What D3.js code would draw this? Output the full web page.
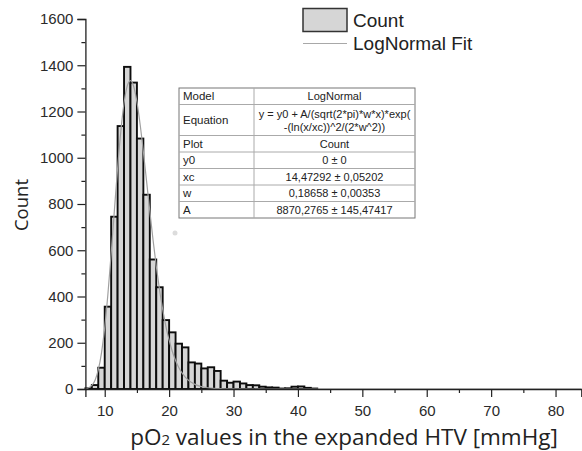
<!DOCTYPE html>
<html>
<head>
<meta charset="utf-8">
<script src="https://cdn.jsdelivr.net/npm/d3@7"></script>
<style>
  html, body { margin: 0; padding: 0; background: #fff; }
  svg { display: block; }
</style>
</head>
<body>
<svg id="chart" width="582" height="451"></svg>
<script>
// ---- data ----
const binLeft = [7,8,9,10,11,12,13,14,15,16,17,18,19,20,21,22,23,24,25,26,27,28,29,30,31,32,33,34,35,36,37,38,39,40,41,42];
const counts  = [3,17,92,356,745,1137,1393,1325,1083,840,560,440,298,245,196,180,115,110,89,94,78,36,27,32,24,17,16,10,7,6,2,3,10,11,5,2];
const binWidth = 1;

// LogNormal fit curve, sampled
const fitX = [7,7.5,8,8.5,9,9.5,10,10.5,11,11.5,12,12.5,13,13.5,14,14.5,15,15.5,16,16.5,17,17.5,18,18.5,19,19.5,20,20.5,21,21.5,22,22.5,23,23.5,24,25,26,27,28,30,35,40,50,60,70,80,84];
const fitY = [1.4,5.1,15.2,38.2,82.4,156.6,266.3,411.6,584.7,771.8,954.5,1114.6,1236.4,1310.5,1333.4,1307.9,1241.4,1143.7,1025.9,898.1,769.1,645.6,532.1,431.4,344.5,271.3,211.0,162.3,123.4,93.0,69.5,51.4,37.8,27.6,20.0,10.4,5.3,2.6,1.3,0.3,0,0,0,0,0,0,0];

const xTicks = [10,20,30,40,50,60,70,80];
const xMinor = [15,25,35,45,55,65,75];
const yTicks = [0,200,400,600,800,1000,1200,1400,1600];
const yMinor = [100,300,500,700,900,1100,1300,1500];

const tableRows = [
  ["Model", "LogNormal"],
  ["Equation", "y = y0 + A/(sqrt(2*pi)*w*x)*exp(\n-(ln(x/xc))^2/(2*w^2))"],
  ["Plot", "Count"],
  ["y0", "0 \u00b1 0"],
  ["xc", "14,47292 \u00b1 0,05202"],
  ["w", "0,18658 \u00b1 0,00353"],
  ["A", "8870,2765 \u00b1 145,47417"]
];
const legendItems = ["Count", "LogNormal Fit"];

// ---- layout ----
const svg = d3.select("#chart");
const x = d3.scaleLinear().domain([7, 84]).range([85.4, 581.3]);
const y = d3.scaleLinear().domain([0, 1600]).range([389, 19]);
const tickFont = "'Liberation Sans', Arial, sans-serif";

// bars
svg.append("g").selectAll("rect").data(binLeft).join("rect")
  .attr("x", d => x(d))
  .attr("y", (d, i) => y(counts[i]))
  .attr("width", d => x(d + binWidth) - x(d))
  .attr("height", (d, i) => y(0) - y(counts[i]))
  .attr("fill", "#d6d6d6")
  .attr("stroke", "#0d0d0d")
  .attr("stroke-width", 1.9);

// fit curve
const line = d3.line().x((d, i) => x(d)).y((d, i) => y(fitY[i])).curve(d3.curveMonotoneX);
svg.append("path").datum(fitX)
  .attr("d", line)
  .attr("fill", "none")
  .attr("stroke", "#a0a0a0")
  .attr("stroke-width", 1.2);

// axes
const yAxis = svg.append("g").attr("transform", `translate(${x(7)},0)`)
  .call(d3.axisLeft(y).tickValues(yTicks).tickSize(8).tickPadding(4).tickFormat(d3.format("d")));
const yAxisMinor = svg.append("g").attr("transform", `translate(${x(7)},0)`)
  .call(d3.axisLeft(y).tickValues(yMinor).tickSize(4).tickFormat(""));
const xAxis = svg.append("g").attr("transform", `translate(0,${y(0)})`)
  .call(d3.axisBottom(x).tickValues(xTicks).tickSize(8).tickPadding(8));
const xAxisMinor = svg.append("g").attr("transform", `translate(0,${y(0)})`)
  .call(d3.axisBottom(x).tickValues(xMinor).tickSize(4).tickFormat(""));

[yAxis, yAxisMinor, xAxis, xAxisMinor].forEach(g => {
  g.select(".domain").attr("stroke", "#222").attr("stroke-width", 1.3);
  g.selectAll(".tick line").attr("stroke", "#222").attr("stroke-width", 1.2);
  g.selectAll("text").attr("font-family", tickFont).attr("font-size", 15).attr("fill", "#2a2a2a");
});
yAxisMinor.select(".domain").remove();
xAxisMinor.select(".domain").remove();

// axis titles
svg.append("text")
  .attr("transform", "translate(28,205) rotate(-90)")
  .attr("text-anchor", "middle")
  .attr("font-family", "'Open Sans', sans-serif")
  .attr("font-size", 18.5)
  .attr("fill", "#222")
  .text("Count");

const xt = svg.append("text")
  .attr("x", 344).attr("y", 445)
  .attr("text-anchor", "middle")
  .attr("font-family", "'Open Sans', sans-serif")
  .attr("font-size", 22.5)
  .attr("fill", "#222");
xt.append("tspan").text("pO");
xt.append("tspan").attr("font-size", 15).text("2");
xt.append("tspan").text(" values in the expanded HTV [mmHg]");

// legend
const lg = svg.append("g").attr("font-family", tickFont).attr("font-size", 19).attr("fill", "#222");
lg.append("rect").attr("x", 303).attr("y", 8.5).attr("width", 44).attr("height", 23)
  .attr("fill", "#d6d6d6").attr("stroke", "#333").attr("stroke-width", 1.5);
lg.append("text").attr("x", 353).attr("y", 27).text(legendItems[0]);
lg.append("line").attr("x1", 303).attr("x2", 347).attr("y1", 43.5).attr("y2", 43.5)
  .attr("stroke", "#a8a8a8").attr("stroke-width", 1.1);
lg.append("text").attr("x", 353).attr("y", 50).text(legendItems[1]);

// stray anchor dot
svg.append("circle").attr("cx", 175).attr("cy", 233).attr("r", 2.5).attr("fill", "#dcdcdc");

// table
const tX0 = 179, tX1 = 254, tX2 = 415, tY0 = 88;
const rowH = [16.5, 31, 16.5, 16.5, 16.5, 16.5, 16.5];
const tg = svg.append("g").attr("font-family", tickFont).attr("fill", "#222");
let yy = tY0;
const rowTops = [];
rowH.forEach(h => { rowTops.push(yy); yy += h; });
const tY1 = yy;
tg.append("rect").attr("x", tX0).attr("y", tY0).attr("width", tX2 - tX0).attr("height", tY1 - tY0)
  .attr("fill", "#fff").attr("stroke", "#777").attr("stroke-width", 1);
rowTops.slice(1).forEach(t => {
  tg.append("line").attr("x1", tX0).attr("x2", tX2).attr("y1", t).attr("y2", t)
    .attr("stroke", "#aaa").attr("stroke-width", 1);
});
tg.append("line").attr("x1", tX1).attr("x2", tX1).attr("y1", tY0).attr("y2", tY1)
  .attr("stroke", "#aaa").attr("stroke-width", 1);
tableRows.forEach((r, i) => {
  const top = rowTops[i], h = rowH[i];
  tg.append("text").attr("x", tX0 + 4).attr("y", top + h / 2 + 4)
    .attr("font-size", 11.5).text(r[0]);
  const lines = r[1].split("\n");
  lines.forEach((ln, j) => {
    tg.append("text").attr("x", (tX1 + tX2) / 2)
      .attr("y", top + h / 2 + 4 + (j - (lines.length - 1) / 2) * 13)
      .attr("font-size", 11)
      .attr("text-anchor", "middle").text(ln);
  });
});
</script>
</body>
</html>
